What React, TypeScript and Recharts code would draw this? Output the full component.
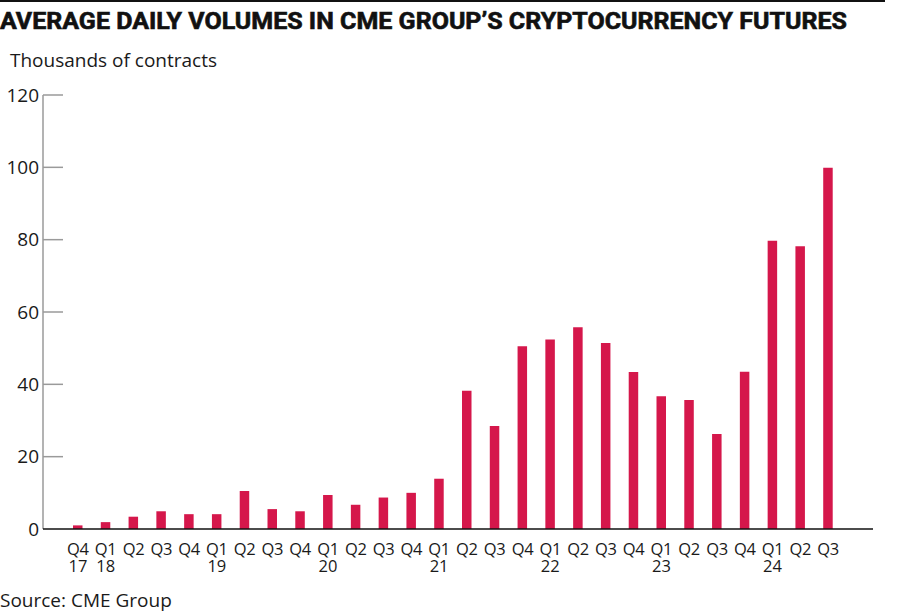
import { BarChart, Bar, XAxis, YAxis } from 'recharts';

const periods = [
  'Q4 17', 'Q1 18', 'Q2 18', 'Q3 18', 'Q4 18', 'Q1 19', 'Q2 19', 'Q3 19', 'Q4 19',
  'Q1 20', 'Q2 20', 'Q3 20', 'Q4 20', 'Q1 21', 'Q2 21', 'Q3 21', 'Q4 21',
  'Q1 22', 'Q2 22', 'Q3 22', 'Q4 22', 'Q1 23', 'Q2 23', 'Q3 23', 'Q4 23',
  'Q1 24', 'Q2 24', 'Q3 24',
];

// thousands of contracts
const volumes = [
  1.0, 1.9, 3.4, 4.9, 4.1, 4.1, 10.5, 5.5, 4.9,
  9.4, 6.7, 8.7, 10.0, 13.9, 38.2, 28.5, 50.5,
  52.4, 55.8, 51.4, 43.4, 36.7, 35.7, 26.3, 43.5,
  79.7, 78.2, 99.9,
];

const yTicks = [0, 20, 40, 60, 80, 100, 120];

const data = periods.map((p, i) => ({ period: p, volume: volumes[i] }));

const FONT = '"Open Sans", sans-serif';
const TEXT = '#1a1a1a';

function XTick({ x, y, payload, index }: any) {
  const [q, yr] = String(payload.value).split(' ');
  const showYear = q === 'Q1' || index === 0;
  return (
    <g>
      <text x={x} y={y + 26} textAnchor="middle" fontSize={16.5} fontFamily={FONT} fill={TEXT} letterSpacing={-0.3}>
        {q}
      </text>
      {showYear && (
        <text x={x} y={y + 43} textAnchor="middle" fontSize={16.5} fontFamily={FONT} fill={TEXT}>
          {yr}
        </text>
      )}
    </g>
  );
}

function YTick({ x, y, payload }: any) {
  return (
    <g>
      {payload.value !== 0 && (
        <line x1={x + 4} x2={x + 24} y1={y} y2={y} stroke="#9a9a9a" strokeWidth={1.5} />
      )}
      <text x={x} y={y} dy={6.5} textAnchor="end" fontSize={19} fontFamily={FONT} fill={TEXT}>
        {payload.value}
      </text>
    </g>
  );
}

export default function App() {
  return (
    <div style={{ position: 'absolute', left: 0, top: 0, width: 900, height: 614, background: '#fff' }}>
      <BarChart
        width={900}
        height={614}
        data={data}
        margin={{ top: 95, right: 27, bottom: 55, left: 0 }}
        barSize={9.5}
      >
        <YAxis
          domain={[0, 120]}
          ticks={yTicks}
          width={43}
          tickSize={0}
          tickMargin={4}
          axisLine={{ stroke: '#9a9a9a', strokeWidth: 1.5 }}
          tickLine={false}
          tick={<YTick />}
          interval={0}
        />
        <XAxis
          dataKey="period"
          height={30}
          interval={0}
          padding={{ left: 21, right: 31 }}
          tickSize={0}
          tickMargin={0}
          tickLine={false}
          axisLine={{ stroke: '#111', strokeWidth: 1.5 }}
          tick={<XTick />}
        />
        <Bar dataKey="volume" fill="#d5174b" isAnimationActive={false} />
      </BarChart>
      <svg
        width={900}
        height={614}
        style={{ position: 'absolute', left: 0, top: 0, pointerEvents: 'none' }}
      >
        <line x1={0} x2={885} y1={1} y2={1} stroke="#111" strokeWidth={2} />
        <text
          x={0}
          y={29}
          fontSize={23}
          fontWeight={700}
          fontFamily="Roboto, sans-serif"
          fill="#111"
          stroke="#111"
          strokeWidth={0.6}
          textLength={847}
          lengthAdjust="spacingAndGlyphs"
        >
          AVERAGE DAILY VOLUMES IN CME GROUP’S CRYPTOCURRENCY FUTURES
        </text>
        <text x={10} y={67} fontSize={19} fontFamily={FONT} fill={TEXT}>
          Thousands of contracts
        </text>
        <text x={0} y={607} fontSize={19} fontFamily={FONT} fill={TEXT}>
          Source: CME Group
        </text>
      </svg>
    </div>
  );
}
